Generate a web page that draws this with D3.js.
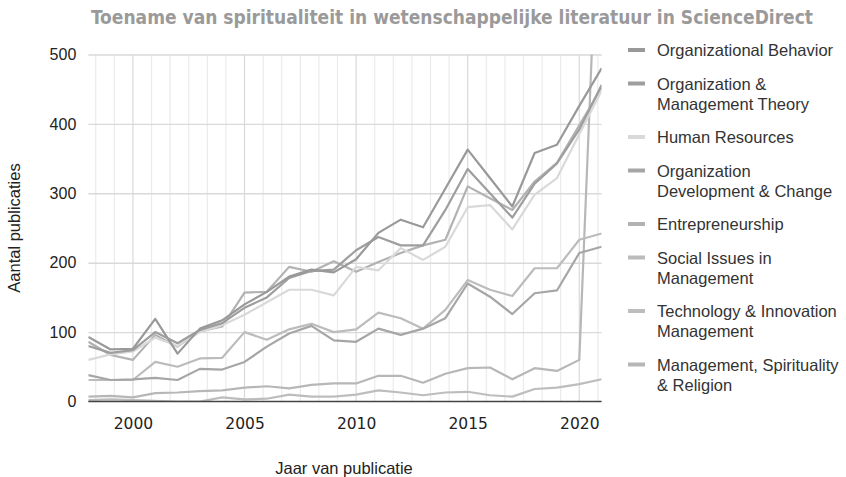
<!DOCTYPE html>
<html>
<head>
<meta charset="utf-8">
<script src="https://cdn.jsdelivr.net/npm/d3@7"></script>
<style>
  body { margin: 0; background: #fff; }
  text { font-family: "Liberation Sans", Arial, sans-serif; }
</style>
</head>
<body>
<div class="chart"></div>
<script>
const years = d3.range(1998, 2022);

const seriesNames = [
  "Organizational Behavior",
  "Organization & Management Theory",
  "Human Resources",
  "Organization Development & Change",
  "Entrepreneurship",
  "Social Issues in Management",
  "Technology & Innovation Management",
  "Management, Spirituality & Religion"
];

const orgBehavior =   [93, 75, 76, 119, 69, 105, 117, 140, 158, 180, 190, 186, 205, 243, 262, 251, 307, 363, 322, 281, 358, 370, 426, 480];
const orgMgmtTheory = [80, 70, 74, 100, 84, 103, 113, 135, 150, 178, 188, 190, 218, 237, 225, 225, 276, 335, 300, 265, 314, 343, 392, 456];
const humanRes =      [60, 68, 72, 92, 80, 100, 110, 125, 143, 161, 161, 153, 194, 189, 221, 204, 223, 280, 283, 248, 298, 322, 385, 448];
const orgDevChange =  [38, 31, 32, 34, 31, 47, 46, 57, 79, 98, 109, 88, 86, 105, 96, 105, 120, 170, 151, 126, 156, 160, 214, 223];
const entrepreneur =  [86, 67, 60, 96, 79, 101, 108, 157, 158, 194, 187, 202, 187, 201, 214, 225, 233, 310, 293, 276, 317, 344, 398, 452];
const socialIssues =  [31, 31, 31, 57, 50, 62, 63, 100, 89, 104, 112, 100, 104, 128, 120, 105, 132, 175, 161, 152, 192, 192, 233, 242];
const techInnov =     [2, 3, 2, 1, 0, 0, 6, 3, 4, 10, 7, 7, 10, 16, 13, 9, 13, 14, 9, 7, 18, 20, 25, 32];
const mgmtSpirit =    [7, 8, 6, 12, 13, 15, 16, 20, 22, 19, 24, 26, 26, 37, 37, 27, 40, 48, 49, 32, 48, 44, 60, 850];

const seriesValues = [orgBehavior, orgMgmtTheory, humanRes, orgDevChange, entrepreneur, socialIssues, techInnov, mgmtSpirit];
const seriesColors = ["#999999", "#9e9e9e", "#d9d9d9", "#a6a6a6", "#b2b2b2", "#bcbcbc", "#bdbdbd", "#b7b7b7"];

const yTicks = [0, 100, 200, 300, 400, 500];
const xTicks = [2000, 2005, 2010, 2015, 2020];

const margin = { left: 88.3, right: 601.6, top: 54.5, bottom: 401.5 };

const svg = d3.select(".chart")
  .append("svg")
    .attr("width", 846)
    .attr("height", 477);

//clip the lines to the plot area
svg.append("defs")
  .append("clipPath")
    .attr("id", "plot-clip")
  .append("rect")
    .attr("x", margin.left)
    .attr("y", margin.top)
    .attr("width", margin.right - margin.left)
    .attr("height", margin.bottom - margin.top);

//SCALES
const xScale = d3.scaleLinear()
  .domain([1998, 2021])
  .range([margin.left, margin.right]);

const yScale = d3.scaleLinear()
  .domain([0, 500])
  .range([margin.bottom, margin.top]);

//vertical gridlines, minor ones every 5/6 year
const minorGrid = d3.range(-2, 27).map(i => 2000 + i * 5 / 6)
  .filter(v => v >= 1998 && v <= 2021.01);
svg.append("g")
  .selectAll("line")
  .data(minorGrid)
  .enter().append("line")
    .attr("x1", d => xScale(d))
    .attr("x2", d => xScale(d))
    .attr("y1", margin.top)
    .attr("y2", margin.bottom)
    .style("stroke", d => Math.abs(d - Math.round(d)) < 0.01 && Math.round(d) % 5 === 0 ? "#d9d9d9" : "#ebebeb")
    .style("stroke-width", "1.2px");

//horizontal gridlines
const yAxisGenerator = d3.axisLeft(yScale)
  .tickValues(yTicks)
  .tickSize(-(margin.right - margin.left))
  .tickPadding(12);
let yAxis = svg.append("g")
  .attr("transform", `translate(${margin.left},0)`)
  .call(yAxisGenerator);
yAxis.select(".domain").remove();
yAxis.selectAll(".tick line")
  .style("stroke", d => d === 0 ? "none" : "#d9d9d9")
  .style("stroke-width", "1.4px");
yAxis.selectAll(".tick text")
  .style("font-family", "Liberation Sans, Arial, sans-serif")
  .style("font-size", "16px")
  .style("fill", "#222");

//x axis labels
const xAxisGenerator = d3.axisBottom(xScale)
  .tickValues(xTicks)
  .tickSize(0)
  .tickPadding(16)
  .tickFormat(d3.format("d"));
let xAxis = svg.append("g")
  .attr("transform", `translate(0,${margin.bottom})`)
  .call(xAxisGenerator);
xAxis.select(".domain").remove();
xAxis.selectAll(".tick text")
  .style("font-family", "DejaVu Sans, sans-serif")
  .style("font-size", "15.5px")
  .style("fill", "#222");

//CHART
const lineGenerator = d3.line()
  .x((d, i) => xScale(years[i]))
  .y(d => yScale(d));

const lines = seriesNames.map((name, i) => ({ name: name, values: seriesValues[i], color: seriesColors[i] }));

svg.append("g")
  .attr("clip-path", "url(#plot-clip)")
  .selectAll(".line-chart")
  .data(lines.slice().reverse())
  .enter().append("path")
    .attr("class", "line-chart")
    .attr("d", d => lineGenerator(d.values))
    .style("stroke", d => d.color)
    .style("fill", "none")
    .style("stroke-width", "2.2px")
    .style("stroke-linejoin", "round");

//baseline
svg.append("line")
  .attr("x1", margin.left)
  .attr("x2", margin.right)
  .attr("y1", yScale(0))
  .attr("y2", yScale(0))
  .style("stroke", "#444")
  .style("stroke-width", "1.5px");

//title
svg.append("text")
  .attr("x", 452)
  .attr("y", 24)
  .attr("text-anchor", "middle")
  .style("font-family", "DejaVu Sans Condensed, DejaVu Sans, sans-serif")
  .style("font-size", "19px")
  .style("font-weight", "700")
  .style("fill", "#9a9a9a")
  .text("Toename van spiritualiteit in wetenschappelijke literatuur in ScienceDirect");

//axis titles
svg.append("text")
  .attr("x", 344)
  .attr("y", 474)
  .attr("text-anchor", "middle")
  .style("font-size", "16.5px")
  .style("fill", "#222")
  .text("Jaar van publicatie");

svg.append("text")
  .attr("transform", "translate(20,228) rotate(-90)")
  .attr("text-anchor", "middle")
  .style("font-size", "16.5px")
  .style("fill", "#222")
  .text("Aantal publicaties");

//legend
const legend = svg.append("g");
let legendY = 50;
lines.forEach(d => {
  const item = legend.append("g");
  item.append("rect")
    .attr("x", 628)
    .attr("y", legendY - 2)
    .attr("width", 17)
    .attr("height", 4)
    .style("fill", d.color);
  const label = item.append("text")
    .attr("x", 657)
    .attr("y", legendY + 6)
    .style("font-size", "16.5px")
    .style("fill", "#333");
  //wrap label to the legend width
  const words = d.name.split(" ");
  let lineText = [];
  let tspan = label.append("tspan").attr("x", 657);
  let lineCount = 1;
  words.forEach(w => {
    lineText.push(w);
    tspan.text(lineText.join(" "));
    if (tspan.node().getComputedTextLength() > 186 && lineText.length > 1) {
      lineText.pop();
      tspan.text(lineText.join(" "));
      lineText = [w];
      tspan = label.append("tspan").attr("x", 657).attr("dy", 20).text(w);
      lineCount++;
    }
  });
  legendY += (lineCount - 1) * 20 + 33.5;
});
</script>
</body>
</html>
